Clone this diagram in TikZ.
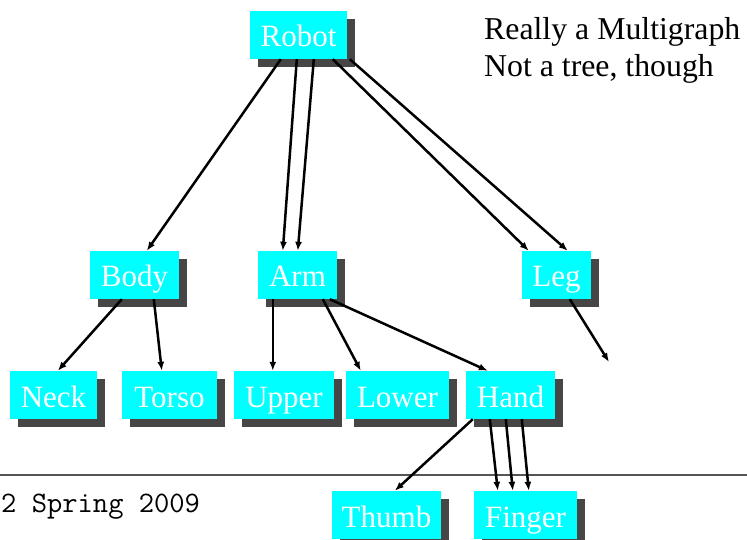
\documentclass[tikz,border=0pt]{standalone}
\usepackage{fontspec}
\setmainfont{Liberation Serif}
\usetikzlibrary{arrows.meta,shadows}
\definecolor{boxcyan}{RGB}{0,255,255}
\definecolor{shadowgray}{RGB}{70,70,70}
\definecolor{rulegray}{RGB}{85,85,85}
\tikzset{
  partbox/.style={rectangle, fill=boxcyan, text=white, inner sep=0pt,
    minimum height=48pt, text height=24pt, text depth=0pt,
    font=\fontsize{31}{31}\selectfont,
    drop shadow={shadow xshift=8pt, shadow yshift=-8pt, fill=shadowgray, opacity=1}},
  link/.style={line width=2.5pt, -{Latex[length=9pt,width=7pt]}},
  note/.style={anchor=base west, inner sep=0pt, font=\fontsize{31.8}{31.8}\selectfont}
}
\begin{document}
\begin{tikzpicture}[x=1pt,y=-1pt]
\useasboundingbox (0,0) rectangle (747,540);
\draw[rulegray, line width=2.5pt] (0,475) -- (747,475);
\node[anchor=base west, inner sep=0pt, font=\ttfamily\fontsize{29.7}{29.7}\selectfont] (foot) at (1,512) {2 Spring 2009};
\node[note] (n1) at (484,40) {Really a Multigraph};
\node[note] (n2) at (484,77) {Not a tree, though};

\node[partbox, minimum width=97pt] (robot) at (298.5,35) {Robot};
\node[partbox, minimum width=89pt] (body) at (134.5,275) {Body};
\node[partbox, minimum width=79pt] (arm) at (297.5,275) {Arm};
\node[partbox, minimum width=69pt] (leg) at (556.5,275) {Leg};
\node[partbox, minimum width=87pt] (neck) at (53.5,395) {Neck};
\node[partbox, minimum width=95pt] (torso) at (169.5,395) {Torso};
\node[partbox, minimum width=100pt] (upper) at (284,395) {Upper};
\node[partbox, minimum width=103pt] (lower) at (397.5,395) {Lower};
\node[partbox, minimum width=89pt] (hand) at (510.5,395) {Hand};
\node[partbox, minimum width=109pt] (thumb) at (386.5,515) {Thumb};
\node[partbox, minimum width=103pt] (finger) at (525.5,515) {Finger};
\coordinate (legend) at (609,362);

\draw[link] ([xshift=31pt]robot.south west) -- ([xshift=57pt]body.north west);
\draw[link] ([xshift=47pt]robot.south west) -- ([xshift=25pt]arm.north west);
\draw[link] ([xshift=64pt]robot.south west) -- ([xshift=40pt]arm.north west);
\draw[link] ([xshift=83pt]robot.south west) -- ([xshift=7pt]leg.north west);
\draw[link] ([xshift=100pt]robot.south west) -- ([xshift=46pt]leg.north west);
\draw[link] ([xshift=32pt]body.south west) -- ([xshift=48pt]neck.north west);
\draw[link] ([xshift=64pt]body.south west) -- ([xshift=40pt]torso.north west);
\draw[link] ([xshift=15pt]arm.south west) -- ([xshift=39pt]upper.north west);
\draw[link] ([xshift=65pt]arm.south west) -- ([xshift=15pt]lower.north west);
\draw[link] ([xshift=72pt]arm.south west) -- ([xshift=22pt]hand.north west);
\draw[link] ([xshift=7pt]hand.south west) -- ([xshift=63pt]thumb.north west);
\draw[link] ([xshift=24pt]hand.south west) -- ([xshift=24pt]finger.north west);
\draw[link] ([xshift=40pt]hand.south west) -- ([xshift=39pt]finger.north west);
\draw[link] ([xshift=56pt]hand.south west) -- ([xshift=55pt]finger.north west);
\draw[link] ([xshift=48pt]leg.south west) -- (legend);
\end{tikzpicture}
\end{document}
